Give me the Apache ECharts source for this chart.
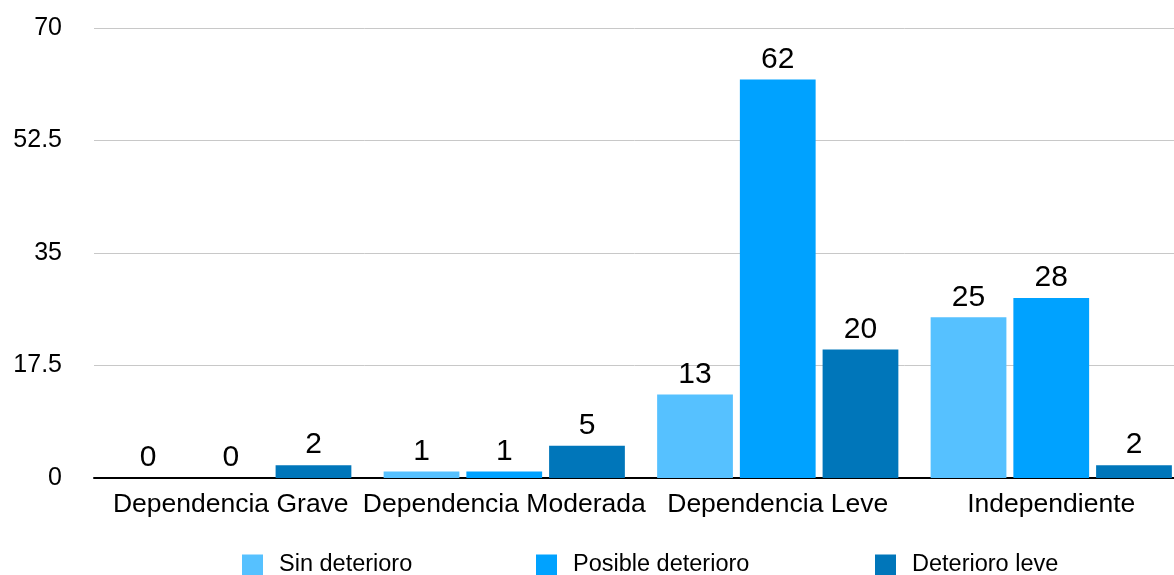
<!DOCTYPE html>
<html>
<head>
<meta charset="utf-8">
<style>
  html, body { margin: 0; padding: 0; background: #fff; }
  #chart { width: 1174px; height: 575px; }
</style>
<script src="https://cdn.jsdelivr.net/npm/echarts@6/dist/echarts.min.js"></script>
</head>
<body>
<div id="chart"></div>
<script>
// Categories on the x axis
const categories = ['Dependencia Grave', 'Dependencia Moderada', 'Dependencia Leve', 'Independiente'];

// Series values (one per category)
const sinDeterioro = [0, 1, 13, 25];
const posibleDeterioro = [0, 1, 62, 28];
const deterioroLeve = [2, 5, 20, 2];

const seriesNames = ['Sin deterioro', 'Posible deterioro', 'Deterioro leve'];
const seriesColors = ['#56C1FF', '#00A2FF', '#0076BA'];
const seriesData = [sinDeterioro, posibleDeterioro, deterioroLeve];

const FONT = '"Liberation Sans", Arial, sans-serif';

const chart = echarts.init(document.getElementById('chart'), null, { renderer: 'canvas' });

// Each legend entry sits at its own horizontal slot
const legendLefts = [237, 531, 870];

chart.setOption({
  animation: false,
  backgroundColor: '#ffffff',
  grid: {
    left: 94,
    right: -14,
    top: 28,
    bottom: 97,
    outerBoundsMode: 'none'
  },
  legend: seriesNames.map((name, i) => ({
    data: [name],
    left: legendLefts[i],
    top: 548,
    itemWidth: 21,
    itemHeight: 21,
    icon: 'rect',
    selectedMode: false,
    textStyle: {
      fontFamily: FONT,
      fontSize: 23.5,
      color: '#000',
      padding: [0, 0, 0, 11]
    }
  })),
  xAxis: {
    type: 'category',
    data: categories,
    axisLine: { show: true, lineStyle: { color: '#000', width: 2 } },
    axisTick: { show: false },
    axisLabel: {
      fontFamily: FONT,
      fontSize: 26.5,
      color: '#000',
      margin: 13,
      interval: 0
    }
  },
  yAxis: {
    type: 'value',
    min: 0,
    max: 70,
    interval: 17.5,
    axisLine: { show: false },
    axisTick: { show: false },
    splitLine: { lineStyle: { color: '#c8c8c8', width: 1 } },
    axisLabel: {
      fontFamily: FONT,
      fontSize: 25,
      color: '#000',
      margin: 32,
      padding: [4, 0, 0, 0]
    }
  },
  series: seriesNames.map((name, i) => ({
    name: name,
    type: 'bar',
    data: seriesData[i],
    barGap: '9.2%',
    barCategoryGap: '11.8%',
    itemStyle: { color: seriesColors[i] },
    label: {
      show: true,
      position: 'top',
      distance: 5,
      fontFamily: FONT,
      fontSize: 30,
      color: '#000'
    }
  }))
});
</script>
</body>
</html>
